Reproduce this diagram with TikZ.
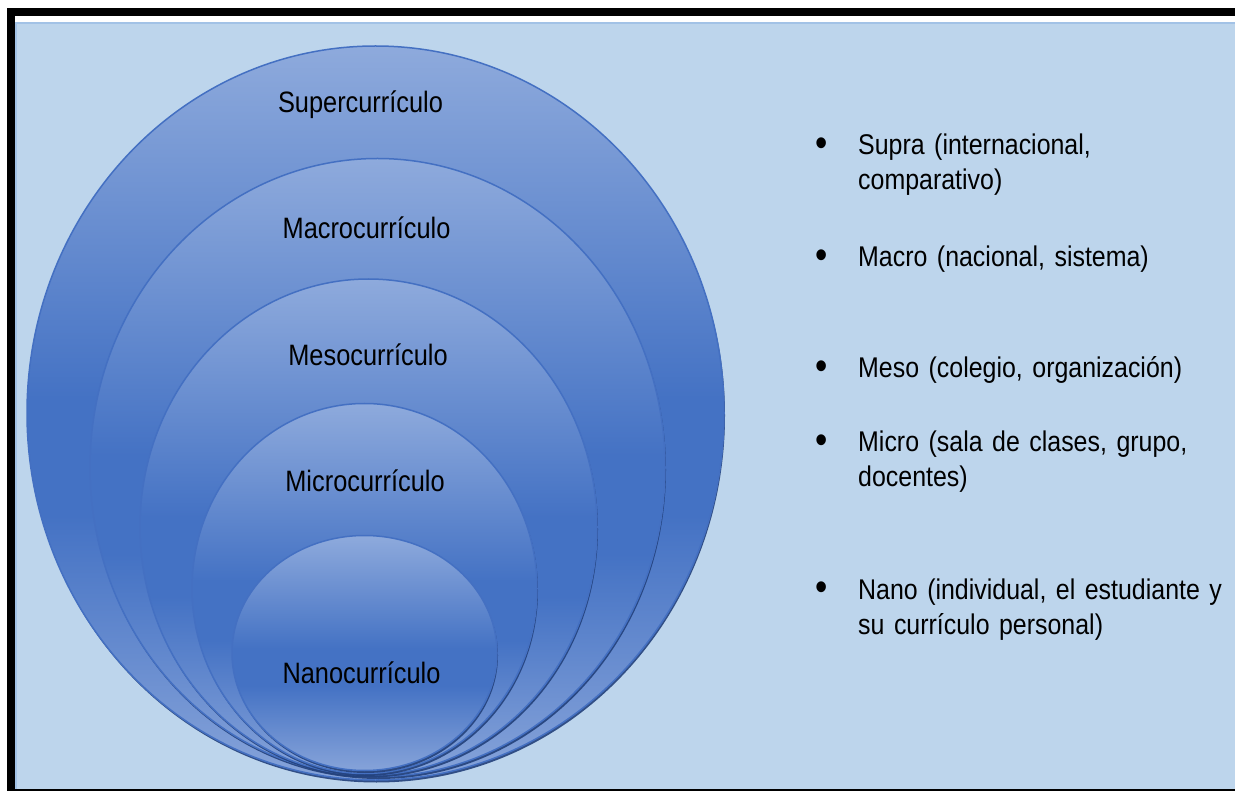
\documentclass[tikz,border=0pt]{standalone}
\usepackage{fontspec}
\newfontfamily\labfont[FakeStretch=0.86]{Liberation Sans}
\newfontfamily\lstfont[FakeStretch=0.875]{Liberation Sans}
\definecolor{bgblue}{HTML}{BDD5EC}
\definecolor{bgedge}{HTML}{A2C2E6}
\definecolor{ringtop}{HTML}{8EAADC}
\definecolor{ringdark}{HTML}{4472C4}
\definecolor{ringbot}{HTML}{86A3D9}
\definecolor{ringline}{HTML}{4470C2}
\definecolor{ringshadow}{HTML}{22407A}
\pgfdeclareverticalshading{ringshade}{100bp}{color(0bp)=(ringbot); color(25bp)=(ringbot); color(43bp)=(ringdark); color(51bp)=(ringdark); color(75bp)=(ringtop); color(100bp)=(ringtop)}
\tikzset{
  ring/.style={shading=ringshade, draw=ringline, line width=1.5pt},
  shadowring/.style={fill=ringshadow, opacity=0.9},
  lab/.style={font=\labfont\fontsize{29.5}{32}\selectfont, anchor=base, inner sep=0pt},
  bul/.style={font=\lstfont\fontsize{40}{42}\selectfont, anchor=center, inner sep=0pt},
  item/.style={font=\lstfont\fontsize{28.5}{35}\selectfont, anchor=base west, text width=400pt, align=left, inner sep=0pt}
}
\begin{document}
\begin{tikzpicture}[x=1pt,y=-1pt]
\useasboundingbox (0,0) rectangle (1235,791);
% frame and background
\fill[white] (0,0) rectangle (1235,791);
\fill[bgblue] (15,22) rectangle (1235,789);
\fill[bgedge] (15,22) rectangle (1235,24);
\fill[bgedge] (15,22) rectangle (17,789);
\fill[black] (7,8) rectangle (1235,16);
\fill[black] (7,8) rectangle (15,791);
\fill[black] (7,789) rectangle (1235,791);
% nested ellipses
\fill[shadowring] (376.5,415.5) ellipse [x radius=348.5, y radius=367];
\shade[ring] (375.5,413) ellipse [x radius=348.5, y radius=367];
\fill[shadowring] (378.5,470) ellipse [x radius=287.5, y radius=309];
\shade[ring] (377.5,467.5) ellipse [x radius=287.5, y radius=309];
\fill[shadowring] (369.5,529.5) ellipse [x radius=228.5, y radius=248];
\shade[ring] (368.5,527) ellipse [x radius=228.5, y radius=248];
\fill[shadowring] (365.5,591) ellipse [x radius=172.5, y radius=185];
\shade[ring] (364.5,588.5) ellipse [x radius=172.5, y radius=185];
\fill[shadowring] (365.5,655.5) ellipse [x radius=132.5, y radius=117.5];
\shade[ring] (364.5,653) ellipse [x radius=132.5, y radius=117.5];
% labels
\node[lab] (super) at (360.5,113) {Supercurrículo};
\node[lab] (macro) at (366.5,239) {Macrocurrículo};
\node[lab] (meso) at (368,366) {Mesocurrículo};
\node[lab] (micro) at (365,492) {Microcurrículo};
\node[lab] (nano) at (361.5,683) {Nanocurrículo};
% list
\node[bul] (b1) at (822,147) {•};
\node[item] (i1) at (858,155) {Supra (internacional,\\comparativo)};
\node[bul] (b2) at (822,259) {•};
\node[item] (i2) at (858,267) {Macro (nacional, sistema)};
\node[bul] (b3) at (822,370) {•};
\node[item] (i3) at (858,378) {Meso (colegio, organización)};
\node[bul] (b4) at (822,444) {•};
\node[item] (i4) at (858,452) {Micro (sala de clases, grupo,\\docentes)};
\node[bul] (b5) at (822,591) {•};
\node[item] (i5) at (858,599) {Nano (individual, el estudiante y\\su currículo personal)};
\end{tikzpicture}
\end{document}
